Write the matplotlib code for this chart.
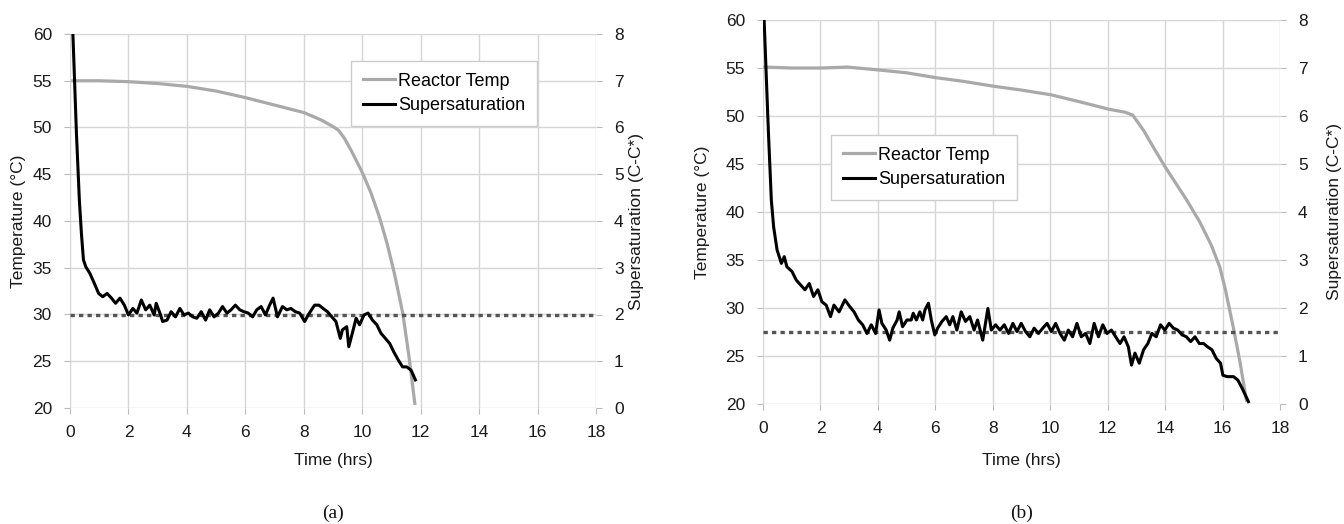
import matplotlib
matplotlib.use("Agg")
import matplotlib.pyplot as plt

plt.rcParams['font.family'] = ['Liberation Sans', 'DejaVu Sans']

# ---------------- data (a) ----------------
temp_a_t = [0.10, 1.0, 2.0, 3.0, 4.0, 5.0, 6.0, 7.0, 8.0, 8.6, 9.0, 9.19, 9.4,
            9.63, 10.0, 10.3, 10.59, 10.85, 11.1, 11.39, 11.6, 11.8]
temp_a = [55.0, 55.0, 54.9, 54.7, 54.4, 53.9, 53.2, 52.4, 51.6, 50.8, 50.1, 49.7,
          48.8, 47.5, 45.2, 43.0, 40.4, 37.6, 34.4, 30.1, 25.5, 20.5]

ss_a_t = [0.10, 0.22, 0.32, 0.39, 0.46, 0.54, 0.68, 0.83, 0.98, 1.12,
          1.27, 1.42, 1.56, 1.71, 1.86, 2.00, 2.15, 2.29, 2.44, 2.59,
          2.73, 2.88, 2.95, 3.10, 3.17, 3.32, 3.46, 3.61, 3.76, 3.90,
          4.05, 4.20, 4.34, 4.49, 4.64, 4.78, 4.93, 5.08, 5.22, 5.37,
          5.51, 5.66, 5.81, 5.95, 6.10, 6.25, 6.39, 6.54, 6.69, 6.83,
          6.95, 7.10, 7.27, 7.42, 7.56, 7.71, 7.86, 8.03, 8.15, 8.37,
          8.52, 8.66, 8.81, 8.96, 9.10, 9.25, 9.32, 9.47, 9.54, 9.69,
          9.79, 9.91, 10.06, 10.20, 10.35, 10.50, 10.64, 10.79, 10.94, 11.08,
          11.23, 11.38, 11.52, 11.67, 11.82]
ss_a = [7.99, 5.88, 4.45, 3.74, 3.17, 3.02, 2.88, 2.67, 2.45, 2.38,
        2.45, 2.35, 2.24, 2.35, 2.20, 1.99, 2.13, 2.03, 2.31, 2.10,
        2.20, 1.99, 2.24, 1.99, 1.85, 1.88, 2.06, 1.95, 2.13, 1.99,
        2.03, 1.95, 1.92, 2.06, 1.88, 2.10, 1.95, 2.03, 2.17, 2.03,
        2.10, 2.20, 2.10, 2.06, 2.03, 1.95, 2.10, 2.17, 1.99, 2.20,
        2.35, 1.95, 2.17, 2.10, 2.13, 2.06, 2.03, 1.85, 1.99, 2.20,
        2.20, 2.13, 2.06, 1.95, 1.85, 1.49, 1.67, 1.74, 1.31, 1.67,
        1.92, 1.78, 1.99, 2.03, 1.88, 1.78, 1.60, 1.49, 1.38, 1.20,
        1.03, 0.88, 0.88, 0.81, 0.60]
target_a = 2.0

# ---------------- data (b) ----------------
temp_b_t = [0.05, 1.0, 2.05, 2.94, 4.0, 5.0, 6.0, 7.0, 8.03, 9.0, 10.04, 11.0,
            12.05, 12.6, 12.87, 13.25, 13.6, 14.0, 14.74, 15.2, 15.6, 15.9, 16.1,
            16.38, 16.6, 16.83]
temp_b = [55.1, 55.0, 55.0, 55.1, 54.8, 54.5, 54.0, 53.6, 53.1, 52.7, 52.2, 51.5,
          50.7, 50.4, 50.1, 48.5, 46.7, 44.7, 41.3, 39.0, 36.6, 34.3, 31.9,
          27.9, 24.5, 20.4]

ss_b_t = [0.04, 0.19, 0.29, 0.37, 0.49, 0.64, 0.74, 0.83, 1.01, 1.16,
          1.31, 1.46, 1.61, 1.76, 1.91, 2.05, 2.20, 2.35, 2.47, 2.65,
          2.85, 3.02, 3.17, 3.32, 3.47, 3.62, 3.77, 3.92, 4.04, 4.14,
          4.29, 4.41, 4.52, 4.67, 4.74, 4.86, 5.01, 5.16, 5.23, 5.34,
          5.46, 5.56, 5.64, 5.76, 5.86, 5.98, 6.08, 6.23, 6.38, 6.50,
          6.61, 6.75, 6.90, 7.05, 7.20, 7.35, 7.47, 7.65, 7.83, 7.95,
          8.10, 8.25, 8.40, 8.55, 8.70, 8.84, 8.99, 9.14, 9.29, 9.44,
          9.59, 9.74, 9.89, 10.04, 10.19, 10.34, 10.49, 10.63, 10.78, 10.93,
          11.08, 11.23, 11.38, 11.53, 11.68, 11.83, 11.98, 12.13, 12.28, 12.43,
          12.57, 12.72, 12.83, 12.95, 13.10, 13.25, 13.40, 13.54, 13.69, 13.84,
          13.99, 14.14, 14.29, 14.44, 14.59, 14.74, 14.89, 15.04, 15.19, 15.34,
          15.48, 15.63, 15.78, 15.93, 16.01, 16.16, 16.38, 16.53, 16.68, 16.90]
ss_b = [7.99, 5.64, 4.25, 3.69, 3.21, 2.93, 3.07, 2.86, 2.76, 2.58,
        2.48, 2.38, 2.51, 2.24, 2.38, 2.13, 2.06, 1.82, 2.06, 1.92,
        2.17, 2.03, 1.92, 1.75, 1.65, 1.47, 1.65, 1.47, 1.96, 1.68,
        1.54, 1.33, 1.58, 1.75, 1.92, 1.61, 1.75, 1.75, 1.89, 1.75,
        1.92, 1.75, 1.96, 2.10, 1.75, 1.44, 1.58, 1.72, 1.82, 1.65,
        1.82, 1.54, 1.92, 1.72, 1.82, 1.54, 1.75, 1.33, 1.99, 1.54,
        1.65, 1.54, 1.65, 1.47, 1.68, 1.51, 1.68, 1.51, 1.40, 1.58,
        1.47, 1.58, 1.68, 1.51, 1.68, 1.47, 1.33, 1.54, 1.40, 1.68,
        1.40, 1.47, 1.26, 1.68, 1.40, 1.65, 1.47, 1.54, 1.40, 1.26,
        1.40, 1.19, 0.81, 1.06, 0.85, 1.13, 1.26, 1.47, 1.40, 1.65,
        1.54, 1.68, 1.58, 1.54, 1.44, 1.40, 1.30, 1.40, 1.26, 1.26,
        1.19, 1.13, 0.95, 0.85, 0.60, 0.57, 0.57, 0.50, 0.33, 0.05]
target_b = 1.5

x_ticks = [0, 2, 4, 6, 8, 10, 12, 14, 16, 18]
temp_ticks = [20, 25, 30, 35, 40, 45, 50, 55, 60]
ss_ticks = [0, 1, 2, 3, 4, 5, 6, 7, 8]

labels = ["Reactor Temp", "Supersaturation"]

# ---------------- styling ----------------
W, H = 1344, 524
fig = plt.figure(figsize=(W / 100, H / 100), dpi=100)

GRID = '#d6d6d6'
TEMP_C = '#a9a9a9'
SS_C = '#000000'
DOT_C = '#555555'
FS = 12.5
TXT = '#1a1a1a'


def panel(rect, tt, temp, st, ss, target, tag, leg_xy, ylab_x, ylab2_x, tag_y, time_y):
    ax = fig.add_axes(rect)
    ax2 = ax.twinx()
    ax.set_zorder(1)
    ax2.set_zorder(2)
    ax.patch.set_visible(False)
    for a in (ax, ax2):
        for s in a.spines.values():
            s.set_visible(False)
    ax.set_xlim(0, 18)
    ax.set_ylim(20, 60)
    ax2.set_ylim(0, 8)
    ax.set_xticks(x_ticks)
    ax.set_yticks(temp_ticks)
    ax2.set_yticks(ss_ticks)
    ax.grid(True, color=GRID, linewidth=1.0)
    ax.tick_params(axis='both', length=4, width=0.8, color='#bbbbbb',
                   labelsize=FS, labelcolor=TXT)
    ax.tick_params(axis='x', pad=8)
    ax.tick_params(axis='y', pad=9)
    ax2.tick_params(axis='y', length=4, width=0.8, color='#bbbbbb',
                    labelsize=FS, labelcolor=TXT, pad=9)

    l1, = ax.plot(tt, temp, color=TEMP_C, lw=2.3, solid_joinstyle='round')
    ax2.axhline(target, color=DOT_C, lw=2.4, linestyle=(0, (1.3, 1.25)),
                dash_capstyle='butt')
    l2, = ax2.plot(st, ss, color=SS_C, lw=2.2, solid_joinstyle='round')

    fig.legend([l1, l2], labels, loc='upper left', bbox_to_anchor=leg_xy,
               borderaxespad=0, frameon=True, fancybox=False,
               edgecolor='#cccccc', fontsize=13,
               handlelength=1.8, handletextpad=0.15, borderpad=0.65,
               labelspacing=0.4, framealpha=1)

    fig.text(ylab_x, rect[1] + rect[3] / 2, "Temperature (°C)", rotation=90,
             ha='center', va='center', fontsize=FS, color=TXT)
    fig.text(ylab2_x, rect[1] + rect[3] / 2, "Supersaturation (C-C*)", rotation=90,
             ha='center', va='center', fontsize=FS, color=TXT)
    cx = rect[0] + rect[2] / 2
    fig.text(cx, time_y, "Time (hrs)", ha='center', va='center', fontsize=FS,
             color=TXT)
    fig.text(cx, tag_y, tag, ha='center', va='center', fontsize=14,
             family=['Liberation Serif', 'DejaVu Serif'], color='#111111')
    return ax


panel([70 / W, 1 - 408 / H, 526 / W, 374 / H], temp_a_t, temp_a, ss_a_t, ss_a,
      target_a, "(a)", (351 / W, 1 - 61 / H), 19 / W, 637 / W,
      1 - 513 / H, 1 - 460 / H)
panel([763 / W, 1 - 404 / H, 517 / W, 384 / H], temp_b_t, temp_b, ss_b_t, ss_b,
      target_b, "(b)", (831 / W, 1 - 135 / H), 702 / W, 1334 / W,
      1 - 513 / H, 1 - 460 / H)

fig.savefig("out.png", dpi=100)
